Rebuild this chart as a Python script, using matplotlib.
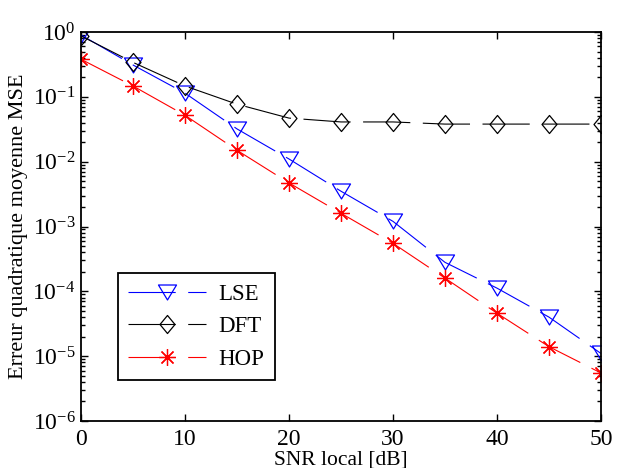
import numpy as np
import matplotlib
matplotlib.use("Agg")
import matplotlib.pyplot as plt
from matplotlib.path import Path
from matplotlib.ticker import LogLocator, NullFormatter

plt.rcParams['font.family'] = ['Liberation Serif', 'DejaVu Serif']
plt.rcParams['mathtext.fontset'] = 'custom'
plt.rcParams['mathtext.rm'] = 'Liberation Serif'
plt.rcParams['mathtext.it'] = 'Liberation Serif:italic'
plt.rcParams['mathtext.bf'] = 'Liberation Serif:bold'
plt.rcParams['lines.scale_dashes'] = False

snr = [0, 5, 10, 15, 20, 25, 30, 35, 40, 45, 50]
lse = [0.9, 0.31, 0.114, 0.032, 0.011, 3.5e-3, 1.2e-3, 2.8e-4, 1.12e-4, 4.0e-5, 1.1e-5]
dft = [0.87, 0.34, 0.147, 0.077, 0.047, 0.041, 0.041, 0.038, 0.038, 0.038, 0.038]
hop = [0.38, 0.147, 0.052, 0.015, 4.7e-3, 1.6e-3, 5.5e-4, 1.6e-4, 4.6e-5, 1.4e-5, 5.5e-6]
labels = ["LSE", "DFT", "HOP"]

tri = Path([(-1, 0.83), (1, 0.83), (0, -0.83), (-1, 0.83)],
           [Path.MOVETO, Path.LINETO, Path.LINETO, Path.CLOSEPOLY])
dia = Path([(0, 1), (0.83, 0), (0, -1), (-0.83, 0), (0, 1)],
           [Path.MOVETO, Path.LINETO, Path.LINETO, Path.LINETO, Path.CLOSEPOLY])

fig = plt.figure(figsize=(6.17, 4.68), dpi=100)
ax = fig.add_axes([0.1313, 0.1004, 0.8428, 0.8312])

dash = (0, (34, 9))
ax.semilogy(snr, lse, color='#0000ff', lw=0.8, ls=dash, marker=tri, ms=13,
            mfc='none', mec='#0000ff', mew=0.9, label=labels[0])
ax.semilogy(snr, dft, color='black', lw=0.8, ls=dash, marker=dia, ms=13,
            mfc='none', mec='black', mew=0.9, label=labels[1])
ax.semilogy(snr, hop, color='#ff0000', lw=0.8, ls=dash, marker=(8, 2, 0), ms=12,
            mfc='none', mec='#ff0000', mew=0.9, label=labels[2])

ax.set_xlim(0, 50)
ax.set_ylim(1e-6, 1)
ax.set_xticks([0, 10, 20, 30, 40, 50])
ax.yaxis.set_major_locator(LogLocator(base=10, numticks=10))
ax.yaxis.set_minor_locator(LogLocator(base=10, subs=np.arange(2, 10), numticks=100))
ax.yaxis.set_minor_formatter(NullFormatter())

ax.tick_params(which='both', direction='in', top=True, right=True, labelsize=17,
               width=1.0, color='black')
ax.tick_params(which='major', length=5)
ax.tick_params(which='minor', length=3)
ax.tick_params(axis='x', pad=6)
ax.tick_params(axis='y', pad=4)
for s in ax.spines.values():
    s.set_linewidth(1.3)

ax.set_xlabel("SNR local [dB]", fontsize=15.5, labelpad=0)
ax.set_ylabel("Erreur quadratique moyenne MSE", fontsize=16, labelpad=3)

leg = ax.legend(loc='upper left', bbox_to_anchor=(0.071, 0.38), fontsize=16.5,
                fancybox=False, framealpha=1, edgecolor='black', handlelength=3.4,
                handletextpad=0.55, borderpad=0.45, labelspacing=0.5, numpoints=1,
                borderaxespad=0)
leg.get_frame().set_linewidth(1.3)

fig.savefig("out.png", dpi=100)
